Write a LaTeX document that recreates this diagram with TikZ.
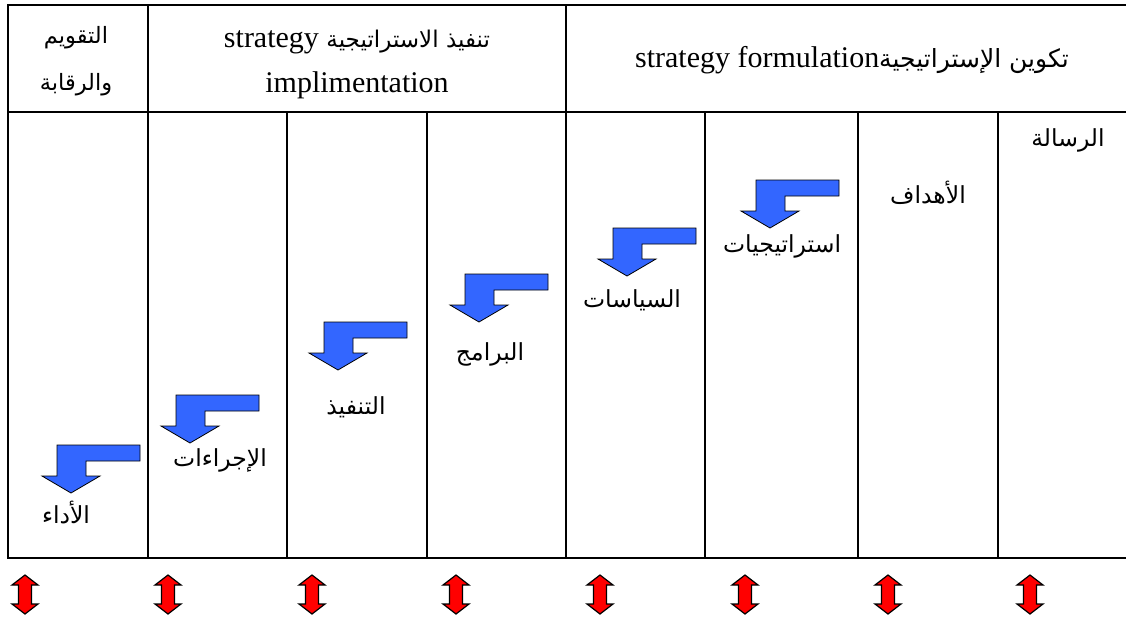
\documentclass[tikz,border=0pt]{standalone}
\usepackage{fontspec}
\setmainfont{Liberation Serif}
\newfontfamily\arabicfont[Script=Arabic]{DejaVu Sans}
\TeXXeTstate=1
\definecolor{arrowblue}{RGB}{51,102,255}
\definecolor{arrowred}{RGB}{255,0,0}
\tikzset{
  gridline/.style={line width=2.5pt},
  lbl/.style={font=\arabicfont\fontsize{23.5}{28}\selectfont, inner sep=0pt},
  hdr/.style={font=\fontsize{30}{34}\selectfont, inner sep=0pt},
  hdrar/.style={font=\arabicfont\fontsize{22.5}{30}\selectfont, inner sep=0pt},
  bent/.pic={\draw[fill=arrowblue, line width=0.8pt, line join=miter]
     (-14,-48) -- (69,-48) -- (69,-32) -- (15,-32) -- (15,-17) -- (29,-17)
     -- (0,0) -- (-29,-17) -- (-14,-17) -- cycle;},
  dbl/.pic={\draw[fill=arrowred, line width=1.2pt]
     (0,-19.5) -- (13,-9.5) -- (6.5,-9.5) -- (6.5,9.5) -- (13,9.5) -- (0,19.5)
     -- (-13,9.5) -- (-6.5,9.5) -- (-6.5,-9.5) -- (-13,-9.5) -- cycle;}
}
\begin{document}
\begin{tikzpicture}[x=1pt,y=-1pt]
\useasboundingbox (0,0) rectangle (1126,618);
% table
\draw[gridline] (1126,5) -- (8,5) -- (8,558) -- (1126,558);
\draw[gridline] (8,112) -- (1126,112);
\foreach \x in {148,566} \draw[gridline] (\x,5) -- (\x,558);
\foreach \x in {287,427,705,858,998} \draw[gridline] (\x,112) -- (\x,558);
% headers
\node[hdrar] (h1a) at (76,38) {\beginR التقويم\endR};
\node[hdrar] (h1b) at (76,85) {\beginR والرقابة\endR};
\node[hdr] (h2a) at (357,42) {strategy {\arabicfont\fontsize{23}{30}\selectfont\beginR تنفيذ الاستراتيجية\endR}};
\node[hdr] (h2b) at (357,85) {implimentation};
\node[hdr] (h3) at (852,60) {strategy formulation{\arabicfont\fontsize{25}{30}\selectfont\beginR تكوين الإستراتيجية\endR}};
% body labels
\node[lbl] (l1) at (1068,140) {\beginR الرسالة\endR};
\node[lbl] (l2) at (928,193) {\beginR الأهداف\endR};
\node[lbl] (l3) at (782,246) {\beginR استراتيجيات\endR};
\node[lbl] (l4) at (632,300) {\beginR السياسات\endR};
\node[lbl] (l5) at (490,354) {\beginR البرامج\endR};
\node[lbl] (l6) at (356,407) {\beginR التنفيذ\endR};
\node[lbl] (l7) at (220,460) {\beginR الإجراءات\endR};
\node[lbl] (l8) at (66,512) {\beginR الأداء\endR};
% bent arrows
\pic at (770,228) {bent};
\pic at (627,276) {bent};
\pic at (479,322) {bent};
\pic at (338,370) {bent};
\pic at (190,443) {bent};
\pic at (71,493) {bent};
% double arrows
\foreach \x in {25,168,312,456,600,745,888,1030} \pic at (\x,594.5) {dbl};
\end{tikzpicture}
\end{document}
